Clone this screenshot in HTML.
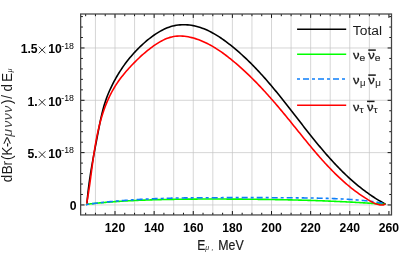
<!DOCTYPE html>
<html><head><meta charset="utf-8"><style>
html,body{margin:0;padding:0;background:#fff;}
svg{display:block;will-change:transform;font-family:"Liberation Sans",sans-serif;}
.tk{font-size:12.2px;font-weight:bold;fill:#000;}
.sup{font-size:8.8px;fill:#000;}
.lg{font-size:13.3px;fill:#1a1a1a;}
.lgs{font-size:9.3px;fill:#2a2a2a;stroke:#2a2a2a;stroke-width:0.2px;}
.lgn{font-size:11.6px;fill:#1a1a1a;stroke:#1a1a1a;stroke-width:0.3px;}
.ax{font-size:13.4px;fill:#1a1a1a;}
.axb{font-size:14px;fill:#1a1a1a;stroke:#1a1a1a;stroke-width:0.2px;}
.it{font-size:11.8px;font-style:italic;fill:#444;}
.sb{font-size:7.5px;font-style:italic;fill:#1a1a1a;}
</style></head><body>
<svg width="415" height="263" viewBox="0 0 415 263">
<rect width="415" height="263" fill="#fff"/>
<g stroke="#c4c4c4" stroke-width="0.7" fill="none"><line x1="95.44" y1="14.0" x2="95.44" y2="214.95"/><line x1="115.00" y1="14.0" x2="115.00" y2="214.95"/><line x1="134.56" y1="14.0" x2="134.56" y2="214.95"/><line x1="154.13" y1="14.0" x2="154.13" y2="214.95"/><line x1="173.69" y1="14.0" x2="173.69" y2="214.95"/><line x1="193.26" y1="14.0" x2="193.26" y2="214.95"/><line x1="212.82" y1="14.0" x2="212.82" y2="214.95"/><line x1="232.39" y1="14.0" x2="232.39" y2="214.95"/><line x1="251.95" y1="14.0" x2="251.95" y2="214.95"/><line x1="271.52" y1="14.0" x2="271.52" y2="214.95"/><line x1="291.08" y1="14.0" x2="291.08" y2="214.95"/><line x1="310.65" y1="14.0" x2="310.65" y2="214.95"/><line x1="330.22" y1="14.0" x2="330.22" y2="214.95"/><line x1="349.78" y1="14.0" x2="349.78" y2="214.95"/><line x1="369.35" y1="14.0" x2="369.35" y2="214.95"/><line x1="80.65" y1="204.95" x2="391.5" y2="204.95"/><line x1="80.65" y1="152.62" x2="391.5" y2="152.62"/><line x1="80.65" y1="100.30" x2="391.5" y2="100.30"/><line x1="80.65" y1="47.97" x2="391.5" y2="47.97"/></g>
<g fill="none" stroke-width="1.6" stroke-linejoin="round">
<path d="M86.95,203.60 L87.12,201.70 L87.28,199.79 L87.44,197.88 L87.62,195.97 L87.82,194.07 L88.02,192.17 L88.23,190.27 L88.46,188.37 L88.69,186.48 L88.94,184.58 L89.19,182.69 L89.46,180.80 L89.73,178.91 L90.01,177.02 L90.30,175.13 L90.60,173.25 L90.90,171.36 L91.21,169.48 L91.52,167.60 L91.85,165.72 L92.17,163.84 L92.51,161.96 L92.84,160.08 L93.18,158.20 L93.53,156.32 L93.88,154.44 L94.23,152.56 L94.58,150.69 L94.94,148.81 L95.30,146.93 L95.66,145.06 L96.02,143.18 L96.38,141.30 L96.74,139.42 L97.10,137.55 L97.46,135.67 L97.82,133.79 L98.18,131.91 L98.53,130.03 L98.89,128.15 L99.26,126.27 L99.62,124.40 L100.00,122.52 L100.38,120.65 L100.78,118.78 L101.19,116.92 L101.61,115.06 L102.05,113.20 L102.50,111.35 L102.98,109.51 L103.48,107.67 L104.00,105.84 L104.55,104.02 L105.13,102.21 L105.73,100.40 L106.37,98.61 L107.03,96.82 L107.72,95.05 L108.45,93.28 L109.19,91.53 L109.97,89.78 L110.76,88.05 L111.59,86.33 L112.43,84.62 L113.29,82.93 L114.18,81.24 L115.09,79.57 L116.01,77.91 L116.96,76.26 L117.93,74.63 L118.92,73.01 L119.93,71.41 L120.96,69.82 L122.02,68.24 L123.09,66.67 L124.19,65.13 L125.31,63.59 L126.45,62.07 L127.61,60.57 L128.79,59.08 L130.00,57.61 L131.22,56.15 L132.47,54.71 L133.74,53.28 L135.04,51.88 L136.35,50.48 L137.69,49.11 L139.05,47.75 L140.43,46.41 L141.83,45.09 L143.26,43.78 L144.71,42.50 L146.18,41.23 L147.67,39.98 L149.19,38.75 L150.73,37.55 L152.29,36.38 L153.87,35.24 L155.48,34.14 L157.10,33.08 L158.75,32.07 L160.41,31.11 L162.10,30.20 L163.81,29.35 L165.54,28.56 L167.28,27.84 L169.05,27.18 L170.84,26.60 L172.64,26.09 L174.47,25.66 L176.31,25.31 L178.17,25.05 L180.03,24.86 L181.91,24.75 L183.79,24.72 L185.67,24.76 L187.55,24.87 L189.43,25.06 L191.29,25.31 L193.15,25.63 L194.99,26.01 L196.82,26.46 L198.63,26.96 L200.43,27.53 L202.22,28.15 L203.99,28.83 L205.74,29.56 L207.48,30.33 L209.21,31.15 L210.92,32.02 L212.62,32.93 L214.30,33.88 L215.97,34.86 L217.63,35.88 L219.27,36.93 L220.89,38.01 L222.51,39.12 L224.10,40.25 L225.68,41.40 L227.25,42.58 L228.81,43.77 L230.34,44.98 L231.87,46.20 L233.38,47.44 L234.87,48.68 L236.35,49.93 L237.82,51.19 L239.28,52.46 L240.72,53.74 L242.15,55.03 L243.56,56.33 L244.97,57.64 L246.36,58.95 L247.74,60.27 L249.11,61.60 L250.47,62.94 L251.81,64.29 L253.15,65.64 L254.48,67.00 L255.80,68.37 L257.10,69.75 L258.40,71.13 L259.69,72.52 L260.98,73.92 L262.25,75.32 L263.52,76.73 L264.78,78.14 L266.03,79.56 L267.27,80.99 L268.51,82.42 L269.74,83.86 L270.97,85.30 L272.19,86.75 L273.40,88.20 L274.61,89.66 L275.82,91.12 L277.02,92.59 L278.22,94.06 L279.41,95.53 L280.60,97.01 L281.79,98.50 L282.97,99.98 L284.15,101.47 L285.33,102.97 L286.51,104.46 L287.69,105.96 L288.86,107.46 L290.03,108.97 L291.21,110.48 L292.38,111.99 L293.55,113.50 L294.72,115.01 L295.90,116.53 L297.07,118.04 L298.24,119.56 L299.42,121.07 L300.60,122.59 L301.77,124.11 L302.95,125.62 L304.14,127.14 L305.32,128.65 L306.51,130.17 L307.69,131.68 L308.89,133.19 L310.08,134.69 L311.28,136.20 L312.48,137.70 L313.69,139.20 L314.89,140.69 L316.11,142.18 L317.33,143.67 L318.55,145.15 L319.78,146.63 L321.01,148.10 L322.25,149.57 L323.49,151.03 L324.74,152.49 L325.99,153.94 L327.26,155.38 L328.52,156.81 L329.80,158.24 L331.08,159.66 L332.37,161.08 L333.66,162.48 L334.97,163.88 L336.28,165.27 L337.60,166.64 L338.93,168.01 L340.26,169.37 L341.61,170.72 L342.96,172.06 L344.33,173.39 L345.70,174.71 L347.08,176.02 L348.47,177.31 L349.88,178.59 L351.29,179.87 L352.71,181.12 L354.15,182.37 L355.59,183.60 L357.05,184.82 L358.52,186.03 L360.00,187.22 L361.49,188.40 L362.99,189.56 L364.51,190.71 L366.04,191.85 L367.58,192.96 L369.13,194.07 L370.70,195.15 L372.28,196.22 L373.88,197.28 L375.49,198.31 L377.11,199.33 L378.75,200.33 L380.40,201.31 L382.07,202.28 L383.75,203.23 L385.50,204.00" stroke="#000"/>
<path d="M86.10,204.95 L87.17,204.21 L88.32,204.08 L89.47,203.95 L90.62,203.82 L91.77,203.70 L92.92,203.58 L94.07,203.46 L95.22,203.34 L96.37,203.22 L97.52,203.11 L98.67,203.00 L99.82,202.89 L100.97,202.78 L102.12,202.68 L103.27,202.58 L104.43,202.48 L105.58,202.38 L106.73,202.28 L107.88,202.19 L109.03,202.10 L110.19,202.01 L111.34,201.92 L112.49,201.83 L113.65,201.75 L114.80,201.67 L115.95,201.58 L117.11,201.51 L118.26,201.43 L119.41,201.35 L120.57,201.28 L121.72,201.21 L122.88,201.14 L124.03,201.07 L125.18,201.00 L126.34,200.94 L127.49,200.87 L128.65,200.81 L129.80,200.75 L130.96,200.69 L132.11,200.63 L133.27,200.58 L134.42,200.52 L135.58,200.47 L136.74,200.42 L137.89,200.37 L139.05,200.32 L140.20,200.27 L141.36,200.22 L142.52,200.18 L143.67,200.13 L144.83,200.09 L145.99,200.05 L147.14,200.01 L148.30,199.97 L149.45,199.93 L150.61,199.89 L151.77,199.85 L152.92,199.82 L154.08,199.78 L155.24,199.75 L156.40,199.72 L157.55,199.68 L158.71,199.65 L159.87,199.62 L161.02,199.59 L162.18,199.57 L163.34,199.54 L164.50,199.51 L165.65,199.49 L166.81,199.46 L167.97,199.44 L169.13,199.41 L170.28,199.39 L171.44,199.37 L172.60,199.35 L173.76,199.33 L174.91,199.31 L176.07,199.29 L177.23,199.27 L178.39,199.26 L179.55,199.24 L180.70,199.22 L181.86,199.21 L183.02,199.20 L184.18,199.18 L185.34,199.17 L186.49,199.16 L187.65,199.15 L188.81,199.13 L189.97,199.12 L191.13,199.11 L192.28,199.11 L193.44,199.10 L194.60,199.09 L195.76,199.08 L196.92,199.08 L198.07,199.07 L199.23,199.06 L200.39,199.06 L201.55,199.06 L202.71,199.05 L203.87,199.05 L205.02,199.05 L206.18,199.04 L207.34,199.04 L208.50,199.04 L209.66,199.04 L210.81,199.04 L211.97,199.04 L213.13,199.04 L214.29,199.04 L215.45,199.04 L216.61,199.04 L217.76,199.05 L218.92,199.05 L220.08,199.05 L221.24,199.06 L222.40,199.06 L223.55,199.06 L224.71,199.07 L225.87,199.07 L227.03,199.08 L228.19,199.08 L229.35,199.09 L230.50,199.10 L231.66,199.10 L232.82,199.11 L233.98,199.11 L235.14,199.12 L236.29,199.13 L237.45,199.14 L238.61,199.15 L239.77,199.15 L240.92,199.16 L242.08,199.17 L243.24,199.18 L244.40,199.19 L245.56,199.20 L246.71,199.21 L247.87,199.22 L249.03,199.23 L250.19,199.24 L251.34,199.25 L252.50,199.26 L253.66,199.28 L254.82,199.29 L255.97,199.30 L257.13,199.32 L258.29,199.33 L259.45,199.34 L260.60,199.36 L261.76,199.37 L262.92,199.39 L264.08,199.40 L265.23,199.42 L266.39,199.44 L267.55,199.45 L268.71,199.47 L269.86,199.49 L271.02,199.51 L272.18,199.52 L273.33,199.54 L274.49,199.56 L275.65,199.58 L276.81,199.60 L277.96,199.62 L279.12,199.65 L280.28,199.67 L281.43,199.69 L282.59,199.71 L283.75,199.74 L284.90,199.76 L286.06,199.78 L287.22,199.81 L288.38,199.83 L289.53,199.86 L290.69,199.89 L291.85,199.91 L293.00,199.94 L294.16,199.97 L295.32,200.00 L296.47,200.03 L297.63,200.06 L298.79,200.09 L299.94,200.12 L301.10,200.15 L302.26,200.18 L303.41,200.21 L304.57,200.25 L305.73,200.28 L306.88,200.31 L308.04,200.35 L309.20,200.38 L310.35,200.42 L311.51,200.46 L312.67,200.49 L313.82,200.53 L314.98,200.57 L316.14,200.61 L317.29,200.65 L318.45,200.69 L319.61,200.73 L320.76,200.77 L321.92,200.82 L323.07,200.86 L324.23,200.90 L325.39,200.95 L326.54,200.99 L327.70,201.04 L328.86,201.09 L330.01,201.13 L331.17,201.18 L332.33,201.23 L333.48,201.28 L334.64,201.33 L335.79,201.38 L336.95,201.43 L338.11,201.48 L339.26,201.54 L340.42,201.59 L341.57,201.65 L342.73,201.70 L343.89,201.76 L345.04,201.82 L346.20,201.87 L347.36,201.93 L348.51,201.99 L349.67,202.05 L350.82,202.11 L351.98,202.17 L353.14,202.24 L354.29,202.30 L355.45,202.36 L356.60,202.43 L357.76,202.49 L358.92,202.56 L360.07,202.63 L361.23,202.70 L362.38,202.77 L363.54,202.84 L364.69,202.91 L365.85,202.98 L367.01,203.05 L368.16,203.12 L369.32,203.20 L370.47,203.27 L371.63,203.35 L372.79,203.43 L373.94,203.51 L375.10,203.58 L376.25,203.66 L377.41,203.75 L378.56,203.83 L379.72,203.91 L380.88,203.99 L382.03,204.08 L383.19,204.16 L384.34,204.25 L385.50,204.20" stroke="#00ff00"/>
<path d="M86.10,204.95 L87.19,204.39 L88.33,204.23 L89.48,204.07 L90.63,203.91 L91.78,203.76 L92.93,203.61 L94.08,203.47 L95.23,203.32 L96.38,203.18 L97.53,203.04 L98.68,202.90 L99.83,202.77 L100.98,202.63 L102.13,202.50 L103.28,202.37 L104.43,202.25 L105.58,202.13 L106.73,202.00 L107.88,201.89 L109.04,201.77 L110.19,201.65 L111.34,201.54 L112.49,201.43 L113.65,201.32 L114.80,201.22 L115.95,201.11 L117.11,201.01 L118.26,200.91 L119.41,200.81 L120.57,200.72 L121.72,200.62 L122.88,200.53 L124.03,200.44 L125.18,200.36 L126.34,200.27 L127.49,200.18 L128.65,200.10 L129.80,200.02 L130.96,199.94 L132.12,199.87 L133.27,199.79 L134.43,199.72 L135.58,199.65 L136.74,199.58 L137.90,199.51 L139.05,199.44 L140.21,199.38 L141.37,199.31 L142.52,199.25 L143.68,199.19 L144.84,199.13 L145.99,199.08 L147.15,199.02 L148.31,198.97 L149.47,198.91 L150.62,198.86 L151.78,198.81 L152.94,198.76 L154.10,198.72 L155.25,198.67 L156.41,198.63 L157.57,198.59 L158.73,198.54 L159.89,198.50 L161.05,198.47 L162.20,198.43 L163.36,198.39 L164.52,198.36 L165.68,198.32 L166.84,198.29 L168.00,198.26 L169.16,198.23 L170.32,198.20 L171.48,198.17 L172.64,198.14 L173.79,198.12 L174.95,198.09 L176.11,198.07 L177.27,198.04 L178.43,198.02 L179.59,198.00 L180.75,197.98 L181.91,197.96 L183.07,197.94 L184.23,197.92 L185.39,197.91 L186.55,197.89 L187.71,197.87 L188.87,197.86 L190.03,197.85 L191.19,197.83 L192.35,197.82 L193.51,197.81 L194.67,197.80 L195.83,197.79 L196.99,197.78 L198.15,197.77 L199.31,197.76 L200.47,197.75 L201.63,197.74 L202.79,197.74 L203.95,197.73 L205.11,197.72 L206.27,197.72 L207.43,197.71 L208.59,197.71 L209.75,197.70 L210.91,197.70 L212.07,197.69 L213.23,197.69 L214.39,197.69 L215.55,197.69 L216.71,197.68 L217.87,197.68 L219.03,197.68 L220.19,197.68 L221.35,197.68 L222.51,197.67 L223.67,197.67 L224.83,197.67 L225.98,197.67 L227.14,197.67 L228.30,197.67 L229.46,197.67 L230.62,197.67 L231.78,197.66 L232.94,197.66 L234.10,197.66 L235.26,197.66 L236.42,197.66 L237.57,197.66 L238.73,197.66 L239.89,197.66 L241.05,197.66 L242.21,197.66 L243.37,197.65 L244.53,197.65 L245.68,197.65 L246.84,197.65 L248.00,197.65 L249.16,197.65 L250.32,197.65 L251.48,197.65 L252.63,197.65 L253.79,197.65 L254.95,197.65 L256.11,197.65 L257.27,197.65 L258.42,197.65 L259.58,197.65 L260.74,197.65 L261.90,197.65 L263.06,197.66 L264.21,197.66 L265.37,197.66 L266.53,197.66 L267.69,197.66 L268.85,197.67 L270.00,197.67 L271.16,197.67 L272.32,197.68 L273.48,197.68 L274.64,197.68 L275.79,197.69 L276.95,197.69 L278.11,197.70 L279.27,197.70 L280.43,197.71 L281.59,197.72 L282.74,197.72 L283.90,197.73 L285.06,197.74 L286.22,197.75 L287.38,197.75 L288.54,197.76 L289.69,197.77 L290.85,197.78 L292.01,197.79 L293.17,197.80 L294.33,197.81 L295.49,197.82 L296.65,197.84 L297.81,197.85 L298.96,197.86 L300.12,197.88 L301.28,197.89 L302.44,197.90 L303.60,197.92 L304.76,197.94 L305.92,197.95 L307.08,197.97 L308.24,197.99 L309.40,198.00 L310.56,198.02 L311.72,198.04 L312.88,198.06 L314.04,198.08 L315.20,198.11 L316.36,198.13 L317.52,198.15 L318.68,198.18 L319.84,198.20 L321.00,198.23 L322.16,198.26 L323.32,198.29 L324.48,198.32 L325.64,198.35 L326.80,198.38 L327.96,198.42 L329.12,198.45 L330.28,198.49 L331.44,198.53 L332.60,198.57 L333.76,198.61 L334.92,198.66 L336.08,198.71 L337.24,198.75 L338.40,198.80 L339.56,198.86 L340.72,198.91 L341.88,198.97 L343.03,199.03 L344.19,199.09 L345.35,199.15 L346.50,199.22 L347.66,199.29 L348.82,199.36 L349.97,199.43 L351.13,199.51 L352.29,199.58 L353.44,199.67 L354.60,199.75 L355.75,199.84 L356.90,199.93 L358.06,200.03 L359.21,200.13 L360.36,200.23 L361.51,200.33 L362.66,200.45 L363.81,200.56 L364.96,200.68 L366.11,200.80 L367.26,200.93 L368.41,201.07 L369.56,201.20 L370.70,201.35 L371.85,201.50 L372.99,201.65 L374.14,201.81 L375.28,201.98 L376.42,202.15 L377.56,202.33 L378.71,202.51 L379.85,202.70 L380.98,202.90 L382.12,203.10 L383.26,203.31 L384.39,203.53 L385.50,204.00" stroke="#0d7ffa" stroke-dasharray="3 3 6 3"/>
<path d="M86.95,203.60 L86.99,201.65 L87.30,199.90 L87.61,198.13 L87.90,196.36 L88.19,194.58 L88.48,192.80 L88.75,191.00 L89.02,189.20 L89.29,187.40 L89.55,185.58 L89.81,183.77 L90.06,181.94 L90.31,180.12 L90.56,178.28 L90.81,176.45 L91.05,174.61 L91.30,172.77 L91.54,170.92 L91.79,169.07 L92.04,167.22 L92.29,165.37 L92.54,163.51 L92.80,161.66 L93.06,159.80 L93.32,157.95 L93.59,156.09 L93.86,154.23 L94.14,152.38 L94.43,150.52 L94.72,148.67 L95.03,146.82 L95.34,144.97 L95.66,143.12 L95.99,141.28 L96.33,139.44 L96.68,137.60 L97.05,135.77 L97.42,133.94 L97.81,132.11 L98.21,130.29 L98.63,128.48 L99.06,126.67 L99.50,124.87 L99.96,123.07 L100.44,121.28 L100.94,119.50 L101.45,117.72 L101.98,115.96 L102.53,114.20 L103.10,112.45 L103.68,110.71 L104.29,108.98 L104.92,107.25 L105.58,105.54 L106.25,103.84 L106.95,102.15 L107.67,100.47 L108.42,98.80 L109.19,97.15 L109.98,95.50 L110.80,93.87 L111.65,92.25 L112.53,90.65 L113.43,89.05 L114.36,87.48 L115.32,85.91 L116.31,84.36 L117.33,82.83 L118.38,81.31 L119.46,79.81 L120.56,78.32 L121.69,76.85 L122.84,75.39 L124.01,73.94 L125.21,72.51 L126.42,71.10 L127.65,69.70 L128.90,68.31 L130.16,66.93 L131.43,65.57 L132.72,64.23 L134.02,62.90 L135.32,61.58 L136.64,60.27 L137.96,58.98 L139.30,57.71 L140.65,56.45 L142.01,55.21 L143.39,53.98 L144.79,52.77 L146.20,51.58 L147.63,50.42 L149.08,49.27 L150.55,48.14 L152.04,47.03 L153.56,45.95 L155.10,44.89 L156.67,43.86 L158.26,42.85 L159.88,41.89 L161.52,40.98 L163.18,40.12 L164.86,39.33 L166.56,38.60 L168.29,37.95 L170.03,37.38 L171.79,36.91 L173.57,36.53 L175.37,36.25 L177.18,36.08 L179.00,36.00 L180.83,36.00 L182.67,36.09 L184.50,36.26 L186.34,36.51 L188.17,36.82 L189.98,37.19 L191.79,37.62 L193.58,38.10 L195.36,38.63 L197.12,39.20 L198.86,39.82 L200.58,40.48 L202.29,41.18 L203.98,41.92 L205.66,42.69 L207.32,43.51 L208.96,44.35 L210.59,45.23 L212.21,46.14 L213.81,47.09 L215.40,48.05 L216.97,49.05 L218.53,50.07 L220.08,51.11 L221.61,52.18 L223.13,53.27 L224.64,54.37 L226.13,55.49 L227.62,56.63 L229.09,57.78 L230.55,58.95 L232.00,60.13 L233.44,61.31 L234.86,62.50 L236.28,63.71 L237.69,64.92 L239.09,66.14 L240.47,67.37 L241.85,68.60 L243.22,69.84 L244.58,71.10 L245.93,72.35 L247.27,73.62 L248.61,74.90 L249.93,76.18 L251.25,77.46 L252.56,78.76 L253.86,80.06 L255.16,81.37 L256.44,82.68 L257.72,84.00 L259.00,85.33 L260.26,86.67 L261.52,88.01 L262.78,89.35 L264.02,90.70 L265.27,92.06 L266.50,93.42 L267.73,94.79 L268.96,96.16 L270.18,97.53 L271.40,98.92 L272.61,100.30 L273.82,101.69 L275.02,103.09 L276.22,104.49 L277.42,105.89 L278.61,107.30 L279.80,108.71 L280.98,110.12 L282.17,111.54 L283.35,112.96 L284.52,114.38 L285.70,115.81 L286.87,117.24 L288.05,118.68 L289.22,120.11 L290.39,121.55 L291.55,122.99 L292.72,124.43 L293.89,125.88 L295.05,127.32 L296.22,128.77 L297.39,130.22 L298.55,131.67 L299.72,133.11 L300.89,134.56 L302.06,136.01 L303.23,137.46 L304.40,138.90 L305.58,140.34 L306.75,141.79 L307.93,143.22 L309.12,144.66 L310.30,146.09 L311.49,147.52 L312.69,148.95 L313.88,150.37 L315.08,151.79 L316.29,153.20 L317.50,154.61 L318.72,156.01 L319.94,157.41 L321.17,158.80 L322.40,160.18 L323.64,161.56 L324.89,162.92 L326.14,164.29 L327.40,165.64 L328.67,166.99 L329.95,168.32 L331.23,169.65 L332.52,170.97 L333.82,172.28 L335.13,173.58 L336.45,174.87 L337.78,176.14 L339.11,177.41 L340.46,178.67 L341.82,179.91 L343.19,181.14 L344.56,182.36 L345.95,183.57 L347.35,184.76 L348.77,185.94 L350.19,187.11 L351.63,188.26 L353.08,189.40 L354.54,190.52 L356.01,191.63 L357.50,192.72 L359.00,193.80 L360.51,194.86 L362.04,195.90 L363.59,196.93 L365.14,197.94 L366.72,198.93 L368.30,199.91 L369.91,200.86 L371.53,201.78 L373.17,202.64 L374.83,203.41 L376.52,204.05 L378.24,204.55 L380.00,204.86 L381.79,204.97 L383.62,204.83 L385.50,204.00" stroke="#f00"/>
</g>
<g stroke="#111" stroke-width="1" fill="none"><line x1="85.65" y1="214.95" x2="85.65" y2="212.75"/><line x1="85.65" y1="14.0" x2="85.65" y2="16.2"/><line x1="95.44" y1="214.95" x2="95.44" y2="212.75"/><line x1="95.44" y1="14.0" x2="95.44" y2="16.2"/><line x1="105.22" y1="214.95" x2="105.22" y2="212.75"/><line x1="105.22" y1="14.0" x2="105.22" y2="16.2"/><line x1="115.00" y1="214.95" x2="115.00" y2="211.04999999999998"/><line x1="115.00" y1="14.0" x2="115.00" y2="17.9"/><line x1="124.78" y1="214.95" x2="124.78" y2="212.75"/><line x1="124.78" y1="14.0" x2="124.78" y2="16.2"/><line x1="134.56" y1="214.95" x2="134.56" y2="212.75"/><line x1="134.56" y1="14.0" x2="134.56" y2="16.2"/><line x1="144.35" y1="214.95" x2="144.35" y2="212.75"/><line x1="144.35" y1="14.0" x2="144.35" y2="16.2"/><line x1="154.13" y1="214.95" x2="154.13" y2="211.04999999999998"/><line x1="154.13" y1="14.0" x2="154.13" y2="17.9"/><line x1="163.91" y1="214.95" x2="163.91" y2="212.75"/><line x1="163.91" y1="14.0" x2="163.91" y2="16.2"/><line x1="173.69" y1="214.95" x2="173.69" y2="212.75"/><line x1="173.69" y1="14.0" x2="173.69" y2="16.2"/><line x1="183.48" y1="214.95" x2="183.48" y2="212.75"/><line x1="183.48" y1="14.0" x2="183.48" y2="16.2"/><line x1="193.26" y1="214.95" x2="193.26" y2="211.04999999999998"/><line x1="193.26" y1="14.0" x2="193.26" y2="17.9"/><line x1="203.04" y1="214.95" x2="203.04" y2="212.75"/><line x1="203.04" y1="14.0" x2="203.04" y2="16.2"/><line x1="212.82" y1="214.95" x2="212.82" y2="212.75"/><line x1="212.82" y1="14.0" x2="212.82" y2="16.2"/><line x1="222.61" y1="214.95" x2="222.61" y2="212.75"/><line x1="222.61" y1="14.0" x2="222.61" y2="16.2"/><line x1="232.39" y1="214.95" x2="232.39" y2="211.04999999999998"/><line x1="232.39" y1="14.0" x2="232.39" y2="17.9"/><line x1="242.17" y1="214.95" x2="242.17" y2="212.75"/><line x1="242.17" y1="14.0" x2="242.17" y2="16.2"/><line x1="251.95" y1="214.95" x2="251.95" y2="212.75"/><line x1="251.95" y1="14.0" x2="251.95" y2="16.2"/><line x1="261.74" y1="214.95" x2="261.74" y2="212.75"/><line x1="261.74" y1="14.0" x2="261.74" y2="16.2"/><line x1="271.52" y1="214.95" x2="271.52" y2="211.04999999999998"/><line x1="271.52" y1="14.0" x2="271.52" y2="17.9"/><line x1="281.30" y1="214.95" x2="281.30" y2="212.75"/><line x1="281.30" y1="14.0" x2="281.30" y2="16.2"/><line x1="291.08" y1="214.95" x2="291.08" y2="212.75"/><line x1="291.08" y1="14.0" x2="291.08" y2="16.2"/><line x1="300.87" y1="214.95" x2="300.87" y2="212.75"/><line x1="300.87" y1="14.0" x2="300.87" y2="16.2"/><line x1="310.65" y1="214.95" x2="310.65" y2="211.04999999999998"/><line x1="310.65" y1="14.0" x2="310.65" y2="17.9"/><line x1="320.43" y1="214.95" x2="320.43" y2="212.75"/><line x1="320.43" y1="14.0" x2="320.43" y2="16.2"/><line x1="330.22" y1="214.95" x2="330.22" y2="212.75"/><line x1="330.22" y1="14.0" x2="330.22" y2="16.2"/><line x1="340.00" y1="214.95" x2="340.00" y2="212.75"/><line x1="340.00" y1="14.0" x2="340.00" y2="16.2"/><line x1="349.78" y1="214.95" x2="349.78" y2="211.04999999999998"/><line x1="349.78" y1="14.0" x2="349.78" y2="17.9"/><line x1="359.56" y1="214.95" x2="359.56" y2="212.75"/><line x1="359.56" y1="14.0" x2="359.56" y2="16.2"/><line x1="369.35" y1="214.95" x2="369.35" y2="212.75"/><line x1="369.35" y1="14.0" x2="369.35" y2="16.2"/><line x1="379.13" y1="214.95" x2="379.13" y2="212.75"/><line x1="379.13" y1="14.0" x2="379.13" y2="16.2"/><line x1="388.91" y1="214.95" x2="388.91" y2="211.04999999999998"/><line x1="388.91" y1="14.0" x2="388.91" y2="17.9"/><line x1="80.65" y1="204.95" x2="84.55000000000001" y2="204.95"/><line x1="391.5" y1="204.95" x2="387.6" y2="204.95"/><line x1="80.65" y1="194.48" x2="82.85000000000001" y2="194.48"/><line x1="391.5" y1="194.48" x2="389.3" y2="194.48"/><line x1="80.65" y1="184.02" x2="82.85000000000001" y2="184.02"/><line x1="391.5" y1="184.02" x2="389.3" y2="184.02"/><line x1="80.65" y1="173.55" x2="82.85000000000001" y2="173.55"/><line x1="391.5" y1="173.55" x2="389.3" y2="173.55"/><line x1="80.65" y1="163.09" x2="82.85000000000001" y2="163.09"/><line x1="391.5" y1="163.09" x2="389.3" y2="163.09"/><line x1="80.65" y1="152.62" x2="84.55000000000001" y2="152.62"/><line x1="391.5" y1="152.62" x2="387.6" y2="152.62"/><line x1="80.65" y1="142.16" x2="82.85000000000001" y2="142.16"/><line x1="391.5" y1="142.16" x2="389.3" y2="142.16"/><line x1="80.65" y1="131.69" x2="82.85000000000001" y2="131.69"/><line x1="391.5" y1="131.69" x2="389.3" y2="131.69"/><line x1="80.65" y1="121.23" x2="82.85000000000001" y2="121.23"/><line x1="391.5" y1="121.23" x2="389.3" y2="121.23"/><line x1="80.65" y1="110.76" x2="82.85000000000001" y2="110.76"/><line x1="391.5" y1="110.76" x2="389.3" y2="110.76"/><line x1="80.65" y1="100.30" x2="84.55000000000001" y2="100.30"/><line x1="391.5" y1="100.30" x2="387.6" y2="100.30"/><line x1="80.65" y1="89.83" x2="82.85000000000001" y2="89.83"/><line x1="391.5" y1="89.83" x2="389.3" y2="89.83"/><line x1="80.65" y1="79.37" x2="82.85000000000001" y2="79.37"/><line x1="391.5" y1="79.37" x2="389.3" y2="79.37"/><line x1="80.65" y1="68.90" x2="82.85000000000001" y2="68.90"/><line x1="391.5" y1="68.90" x2="389.3" y2="68.90"/><line x1="80.65" y1="58.44" x2="82.85000000000001" y2="58.44"/><line x1="391.5" y1="58.44" x2="389.3" y2="58.44"/><line x1="80.65" y1="47.97" x2="84.55000000000001" y2="47.97"/><line x1="391.5" y1="47.97" x2="387.6" y2="47.97"/><line x1="80.65" y1="37.51" x2="82.85000000000001" y2="37.51"/><line x1="391.5" y1="37.51" x2="389.3" y2="37.51"/><line x1="80.65" y1="27.04" x2="82.85000000000001" y2="27.04"/><line x1="391.5" y1="27.04" x2="389.3" y2="27.04"/><line x1="80.65" y1="16.58" x2="82.85000000000001" y2="16.58"/><line x1="391.5" y1="16.58" x2="389.3" y2="16.58"/></g>
<rect x="80.65" y="14.0" width="310.85" height="200.95" fill="none" stroke="#444" stroke-width="1.25"/>
<g transform="translate(115.00,232.05) scale(1,1.05)"><text x="0" y="0" text-anchor="middle" class="tk">120</text></g><g transform="translate(154.13,232.05) scale(1,1.05)"><text x="0" y="0" text-anchor="middle" class="tk">140</text></g><g transform="translate(193.26,232.05) scale(1,1.05)"><text x="0" y="0" text-anchor="middle" class="tk">160</text></g><g transform="translate(232.39,232.05) scale(1,1.05)"><text x="0" y="0" text-anchor="middle" class="tk">180</text></g><g transform="translate(271.52,232.05) scale(1,1.05)"><text x="0" y="0" text-anchor="middle" class="tk">200</text></g><g transform="translate(310.65,232.05) scale(1,1.05)"><text x="0" y="0" text-anchor="middle" class="tk">220</text></g><g transform="translate(349.78,232.05) scale(1,1.05)"><text x="0" y="0" text-anchor="middle" class="tk">240</text></g><g transform="translate(388.91,232.05) scale(1,1.05)"><text x="0" y="0" text-anchor="middle" class="tk">260</text></g>
<text x="37.6" y="158.07" text-anchor="end" class="tk">5.</text><path d="M38.800000000000004,151.32 L45.4,157.93 M38.800000000000004,157.93 L45.4,151.32" stroke="#1a1a1a" stroke-width="0.9" fill="none"/><text x="48.2" y="158.07" class="tk">10</text><text x="61.3" y="153.27" class="sup">-18</text><text x="37.6" y="105.75" text-anchor="end" class="tk">1.</text><path d="M38.800000000000004,99.00 L45.4,105.60 M38.800000000000004,105.60 L45.4,99.00" stroke="#1a1a1a" stroke-width="0.9" fill="none"/><text x="48.2" y="105.75" class="tk">10</text><text x="61.3" y="100.95" class="sup">-18</text><text x="37.6" y="53.42" text-anchor="end" class="tk">1.5</text><path d="M38.800000000000004,46.67 L45.4,53.27 M38.800000000000004,53.27 L45.4,46.67" stroke="#1a1a1a" stroke-width="0.9" fill="none"/><text x="48.2" y="53.42" class="tk">10</text><text x="61.3" y="48.62" class="sup">-18</text><text x="76.6" y="209.95" text-anchor="end" class="tk">0</text>
<g fill="none" stroke-width="1.6">
<line x1="297.1" y1="29.3" x2="346.2" y2="29.3" stroke="#000"/>
<line x1="297.1" y1="54.3" x2="346.2" y2="54.3" stroke="#00ff00"/>
<line x1="297.0" y1="79.05" x2="346.2" y2="79.05" stroke="#0d7ffa" stroke-dasharray="3 3 6 3"/>
<line x1="297.1" y1="105.3" x2="346.2" y2="105.3" stroke="#f00"/>
</g>
<g transform="translate(352.8,34.7) scale(1.04,1)"><text x="0" y="0" class="lg">Total</text></g>
<g transform="translate(353.1,59.3) scale(1.13,1)"><text x="0" y="0" class="lgn">ν</text></g><g transform="translate(359.6,61.4) scale(1.1,1)"><text x="0" y="0" class="lgs" style="font-size:9.3px;fill:#2a2a2a;stroke:#2a2a2a;stroke-width:0.2px">e</text></g><g transform="translate(368.2,59.3) scale(1.13,1)"><text x="0" y="0" class="lgn">ν</text></g><g transform="translate(374.8,61.4) scale(1.1,1)"><text x="0" y="0" class="lgs" style="font-size:9.3px;fill:#2a2a2a;stroke:#2a2a2a;stroke-width:0.2px">e</text></g><line x1="368.3" y1="50.1" x2="375.8" y2="50.1" stroke="#1a1a1a" stroke-width="1.5"/>
<g transform="translate(353.1,84.3) scale(1.13,1)"><text x="0" y="0" class="lgn">ν</text></g><g transform="translate(360.0,86.4) scale(1.1,1)"><text x="0" y="0" class="lgs" style="font-size:8.8px;fill:#333;stroke:#333;stroke-width:0.12px">μ</text></g><g transform="translate(368.2,84.3) scale(1.13,1)"><text x="0" y="0" class="lgn">ν</text></g><g transform="translate(375.2,86.4) scale(1.1,1)"><text x="0" y="0" class="lgs" style="font-size:8.8px;fill:#333;stroke:#333;stroke-width:0.12px">μ</text></g><line x1="368.3" y1="75.1" x2="375.8" y2="75.1" stroke="#1a1a1a" stroke-width="1.5"/>
<g transform="translate(353.1,110.6) scale(1.13,1)"><text x="0" y="0" class="lgn">ν</text></g><g transform="translate(359.6,112.7) scale(1.1,1)"><text x="0" y="0" class="lgs" style="font-size:9.3px;fill:#2a2a2a;stroke:#2a2a2a;stroke-width:0.2px">τ</text></g><g transform="translate(366.95,110.6) scale(1.13,1)"><text x="0" y="0" class="lgn">ν</text></g><g transform="translate(373.55,112.7) scale(1.1,1)"><text x="0" y="0" class="lgs" style="font-size:9.3px;fill:#2a2a2a;stroke:#2a2a2a;stroke-width:0.2px">τ</text></g><line x1="367.05" y1="101.39999999999999" x2="374.55" y2="101.39999999999999" stroke="#1a1a1a" stroke-width="1.5"/>
<g transform="translate(197.35,250.3) scale(0.825,1)"><text x="0" y="0" class="axb" style="font-size:14.7px">E</text></g><text x="205.2" y="250.0" class="sb" style="font-size:7px">μ</text><text x="211.6" y="250.4" class="sb">,</text><g transform="translate(218.3,250.2) scale(0.885,1)"><text x="0" y="0" class="axb">MeV</text></g>
<g transform="translate(12.4,182.5) rotate(-90) scale(1,1.06)">
<text class="ax" x="0.25" y="0">d</text>
<text class="ax" x="8.2" y="0">Br</text><text class="ax" x="22.4" y="0">(</text><text class="ax" x="27.05" y="0">K</text><text class="ax" x="35.5" y="0">-</text>
<text class="ax" x="37.9" y="0">&gt;</text>
<g transform="scale(1.2,1)" class="it">
<text x="38.208" y="0">μ</text>
<text x="45.558" y="0">ν</text>
<text x="51.892" y="0">ν</text>
<text x="58.142" y="0">ν</text>
</g>
<text class="ax" x="78.55" y="0">)</text>
<text class="ax" x="83.85" y="0">/</text>
<text class="ax" x="91.0" y="0">d</text>
<text class="ax" x="100.85" y="0">E</text>
<text class="sb" x="110.3" y="-0.5" style="font-size:6.6px">μ</text>
</g>
</svg>
</body></html>
